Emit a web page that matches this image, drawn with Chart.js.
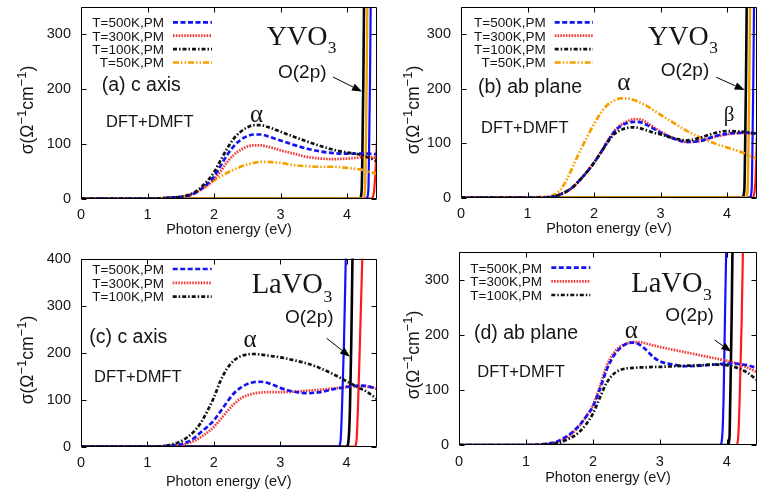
<!DOCTYPE html>
<html><head><meta charset="utf-8">
<script src="https://cdn.jsdelivr.net/npm/chart.js@4.4.1/dist/chart.umd.min.js"></script>
<style>
html,body{margin:0;padding:0;background:#fff;}
#wrap{position:relative;width:757px;height:494px;overflow:hidden;background:#fff;}
.pane{position:absolute;}
</style></head><body>
<div id="wrap">
 <div class="pane" style="left:0;top:0;width:380px;height:245px"><canvas id="ca"></canvas></div>
 <div class="pane" style="left:378px;top:0;width:379px;height:245px"><canvas id="cb"></canvas></div>
 <div class="pane" style="left:0;top:245px;width:380px;height:249px"><canvas id="cc"></canvas></div>
 <div class="pane" style="left:378px;top:245px;width:379px;height:249px"><canvas id="cd"></canvas></div>
</div>
<script>
// ---------------- data ----------------
const energy = [0, 1.0, 1.2, 1.4, 1.5, 1.6, 1.7, 1.8, 1.9, 2.0, 2.1, 2.2, 2.3, 2.4, 2.5, 2.6, 2.7, 2.8, 2.9, 3.0, 3.2, 3.4, 3.6, 3.8, 4.0, 4.2, 4.3, 4.45];
const xTicks = [0, 1, 2, 3, 4];
const yTicks350 = [0, 100, 200, 300];
const yTicks400 = [0, 100, 200, 300, 400];
const seriesLabels = ['T=500K,PM', 'T=300K,PM', 'T=100K,PM', 'T=50K,PM'];
const xTitle = 'Photon energy (eV)';
const yTitleParts = [['σ(Ω',0],['−1',1],['cm',0],['−1',1],[')',0]];

// (a) YVO3 c axis
const a_T500 = [0,0,0.5,2,3,5,9,17,27,40,60,80,96,107,114,117,117,114,110,106,98,91,86,83,82,82,82,81];
const a_T300 = [0,0,0.5,2,3,5,9,16,24,35,50,67,80,89,95,97,97,95,92,88,82,76,73,72,73,75,76,74];
const a_T100 = [0,0,0.5,2,3,6,11,20,32,48,70,92,110,122,130,134,134,131,127,122,113,104,96,89,84,80,76,68];
const a_T50  = [0,0,0.5,2,3,5,9,16,24,33,40,47,53,58,62,65,67,67,66,65,61,59,58,58,56,53,50,45];
// (b) YVO3 ab plane
const b_T500 = [0,0,0,2,6,12,21,34,48,64,82,102,120,131,137,139,138,133,126,119,108,102,104,112,117,119,119,118];
const b_T300 = [0,0,0,2,6,12,21,34,48,64,83,103,121,133,140,144,143,137,129,121,109,102,104,111,116,118,118,117];
const b_T100 = [0,0,0,2,6,12,21,34,48,64,82,101,116,124,128,129,127,123,119,116,109,105,110,118,122,121,120,117];
const b_T50  = [0,0,1,5,15,35,62,88,112,135,155,170,178,182,182,179,174,168,160,152,137,122,110,100,92,84,79,71];
// (c) LaVO3 c axis
const c_T500 = [0,0,1,3,5,10,18,30,42,56,75,95,113,125,133,137,138,136,131,125,117,114,116,122,127,130,129,123];
const c_T300 = [0,0,0.5,2,3,7,12,20,30,42,58,75,90,102,109,113,115,116,116,116,117,119,121,124,127,129,128,124];
const c_T100 = [0,0,1,6,11,20,32,50,75,104,140,166,183,192,196,197,196,194,192,190,184,177,167,154,139,124,117,102];
// (d) LaVO3 ab plane
const d_T500 = [0,0,1,4,8,15,24,36,52,70,100,135,160,175,184,186,182,172,160,152,146,143,144,146,148,147,145,140];
const d_T300 = [0,0,1,4,7,13,22,35,52,72,105,142,165,178,184,187,187,184,181,178,173,168,163,158,153,146,141,132];
const d_T100 = [0,0,0.5,2,4,9,15,24,38,57,85,112,128,136,139,140,141,141,142,142,143,144,145,146,145,138,132,118];

// O(2p) absorption edges (x in eV, y in conductivity)
const edgeY = [0, 0, 15, 80, 220, 420];
const a_edge500x = [0, 4.29, 4.32, 4.33, 4.345, 4.36];
const a_edge100x = [0, 4.19, 4.22, 4.23, 4.245, 4.26];
const a_edge50x  = [0, 4.24, 4.27, 4.28, 4.295, 4.31];
const a_edge300x = [0, 4.36, 4.40, 4.42, 4.44, 4.45];
const a_edge300y = [0, 0, 8, 35, 80, 105];
const b_edge500x = [0, 4.34, 4.37, 4.38, 4.395, 4.41];
const b_edge100x = [0, 4.23, 4.26, 4.27, 4.285, 4.30];
const b_edge50x  = [0, 4.28, 4.31, 4.32, 4.335, 4.35];
const b_edge300x = [0, 4.38, 4.41, 4.43, 4.45];
const b_edge300y = [0, 0, 8, 40, 115];
const c_edge500x = [0, 3.88, 3.91, 3.93, 3.96, 3.99];
const c_edge100x = [0, 4.00, 4.03, 4.05, 4.07, 4.09];
const c_edge300x = [0, 4.12, 4.15, 4.17, 4.20, 4.24];
const d_edge500x = [0, 3.90, 3.93, 3.95, 3.97, 4.00];
const d_edge100x = [0, 4.01, 4.04, 4.05, 4.07, 4.09];
const d_edge300x = [0, 4.14, 4.17, 4.19, 4.22, 4.25];

// ---------------- styles ----------------
const SANS = '"Liberation Sans", Arial, sans-serif';
const SERIF = '"Liberation Serif", "Times New Roman", serif';
const INK = '#151515';
const STY = {
  T500: {color:'#1414f0', dash:[5,2.5], width:2.7},
  T300: {color:'#f23a3a', dash:[1.6,1.2], width:2.7},
  T100: {color:'#111111', dash:[4,2,1.5,2], width:2.7},
  T50:  {color:'#f5a000', dash:[6,2,1.5,2,1.5,2], width:2.7}
};
const EDGE = {
  T500: {color:'#1010ff', width:2.2},
  T300: {color:'#ff1a1a', width:2.2},
  T100: {color:'#000000', width:2.6},
  T50:  {color:'#f2a000', width:2.4}
};

function pts(xs, ys){ return xs.map((x,i)=>({x:x, y:ys[i]})); }

function curve(label, key, values, order){
  const s = STY[key];
  return {label, data: pts(energy, values), borderColor:s.color, borderWidth:s.width, borderDash:s.dash,
    pointRadius:0, fill:false, cubicInterpolationMode:'monotone', order, styleKey:key};
}
function edge(key, xs, ys, order){
  const s = EDGE[key];
  return {label:'O(2p) '+key, data: pts(xs, ys), borderColor:s.color, borderWidth:s.width,
    pointRadius:0, fill:false, cubicInterpolationMode:'monotone', order};
}

function makeDeco(p){
  return {
    id:'deco_'+p.id,
    afterDatasetsDraw(chart){
      const ctx = chart.ctx, a = chart.chartArea, xs = chart.scales.x, ys = chart.scales.y;
      ctx.save();
      // frame with inward ticks on all four sides
      ctx.strokeStyle = '#000'; ctx.lineWidth = 1; ctx.setLineDash([]);
      const L = Math.round(a.left)+0.5, R = Math.round(a.right)-0.5, T = Math.round(a.top)+0.5, B = Math.round(a.bottom)-0.5;
      ctx.beginPath(); ctx.rect(L, T, R-L, B-T); ctx.stroke();
      ctx.beginPath();
      p.xTicks.forEach(v=>{ const px = Math.round(xs.getPixelForValue(v))+0.5;
        ctx.moveTo(px,B); ctx.lineTo(px,B-5); ctx.moveTo(px,T); ctx.lineTo(px,T+5); });
      p.yTicks.forEach(v=>{ const py = Math.round(ys.getPixelForValue(v))+0.5;
        ctx.moveTo(L,py); ctx.lineTo(L+5,py); ctx.moveTo(R,py); ctx.lineTo(R-5,py); });
      ctx.stroke();
      // y-axis title with real superscripts
      ctx.save();
      ctx.translate(p.ytitle.x, p.ytitle.cy);
      ctx.rotate(-Math.PI/2);
      ctx.fillStyle = INK; ctx.textBaseline = 'alphabetic'; ctx.textAlign = 'left';
      const big = '17.5px '+SANS, small = '13px '+SANS;
      let total = 0;
      yTitleParts.forEach(([t,sup])=>{ ctx.font = sup?small:big; total += ctx.measureText(t).width; });
      let cx = -total/2;
      yTitleParts.forEach(([t,sup])=>{ ctx.font = sup?small:big; ctx.fillText(t, cx, sup? -1 : 6); cx += ctx.measureText(t).width; });
      ctx.restore();
      // legend
      const legendSets = chart.data.datasets.filter(d=>d.styleKey);
      ctx.font = '13.5px '+SANS; ctx.fillStyle = INK; ctx.textAlign = 'right'; ctx.textBaseline = 'alphabetic';
      legendSets.forEach((d,i)=>{
        const y = p.legend.rows[i];
        ctx.fillText(d.label, p.legend.textRight, y+4.8);
        const s = STY[d.styleKey];
        ctx.strokeStyle = s.color; ctx.lineWidth = s.width; ctx.setLineDash(s.dash);
        ctx.beginPath(); ctx.moveTo(p.legend.x1, y); ctx.lineTo(p.legend.x2, y); ctx.stroke();
      });
      ctx.setLineDash([]);
      // annotations
      ctx.fillStyle = INK; ctx.textAlign = 'left';
      p.notes.forEach(n=>{
        if (n.kind === 'chem'){
          ctx.font = n.size+'px '+SERIF; ctx.textAlign='left';
          ctx.fillText(n.base, n.x, n.y);
          const w = ctx.measureText(n.base).width;
          ctx.font = (n.size*0.62)+'px '+SERIF;
          ctx.fillText(n.sub, n.x + w + 0.5, n.y + n.size*0.29);
        } else if (n.kind === 'arrow'){
          ctx.strokeStyle = '#000'; ctx.lineWidth = 1;
          const ang = Math.atan2(n.y2-n.y1, n.x2-n.x1), hl = 10, hw = 3.8;
          const bx = n.x2 - hl*Math.cos(ang), by = n.y2 - hl*Math.sin(ang);
          ctx.beginPath(); ctx.moveTo(n.x1,n.y1); ctx.lineTo(bx,by); ctx.stroke();
          ctx.fillStyle = '#000';
          ctx.beginPath(); ctx.moveTo(n.x2,n.y2);
          ctx.lineTo(bx + hw*Math.sin(ang), by - hw*Math.cos(ang));
          ctx.lineTo(bx - hw*Math.sin(ang), by + hw*Math.cos(ang));
          ctx.closePath(); ctx.fill();
          ctx.fillStyle = INK;
        } else {
          ctx.font = n.size+'px '+(n.serif?SERIF:SANS);
          ctx.textAlign = n.align || 'left';
          ctx.fillText(n.text, n.x, n.y);
        }
      });
      ctx.restore();
    }
  };
}

function makeChart(p){
  new Chart(document.getElementById(p.id), {
    type:'line',
    data:{datasets:p.datasets},
    options:{
      responsive:true, maintainAspectRatio:false, animation:false, devicePixelRatio:1,
      layout:{padding:{top:p.area.top, right:p.area.right, left:0, bottom:0}},
      plugins:{legend:{display:false}, tooltip:{enabled:false}},
      scales:{
        x:{type:'linear', min:0, max:4.45,
          afterBuildTicks:s=>{ s.ticks = p.xTicks.map(v=>({value:v})); },
          afterFit:s=>{ s.height = p.area.xh; s.paddingLeft = 0; s.paddingRight = 0; },
          grid:{display:false, drawTicks:false}, border:{display:false},
          ticks:{color:INK, padding:p.area.xtp, maxRotation:0, autoSkip:false, font:{family:SANS, size:14.5}},
          title:{display:true, text:xTitle, color:INK, font:{family:SANS, size:14.5}, padding:{top:0, bottom:p.area.xtb}}
        },
        y:{type:'linear', min:0, max:p.ymax,
          afterBuildTicks:s=>{ s.ticks = p.yTicks.map(v=>({value:v})); },
          afterFit:s=>{ s.width = p.area.left; s.paddingTop = 0; s.paddingBottom = 0; },
          grid:{display:false, drawTicks:false}, border:{display:false},
          ticks:{color:INK, padding:10, font:{family:SANS, size:14.5}},
          title:{display:false}
        }
      }
    },
    plugins:[makeDeco(p)]
  });
}

// ---------------- panels ----------------
makeChart({
  id:'ca', ymax:350, xTicks, yTicks:yTicks350,
  area:{left:81, top:7, right:3, xh:46.5, xtp:8, xtb:6.8},
  ytitle:{x:27, cy:110},
  datasets:[
    curve(seriesLabels[0],'T500',a_T500,2), curve(seriesLabels[1],'T300',a_T300,3),
    curve(seriesLabels[2],'T100',a_T100,1), curve(seriesLabels[3],'T50',a_T50,4),
    edge('T100',a_edge100x,edgeY,13), edge('T500',a_edge500x,edgeY,12),
    edge('T300',a_edge300x,a_edge300y,14), edge('T50',a_edge50x,edgeY,10)
  ],
  legend:{textRight:164, x1:173, x2:212, rows:[22.3,35.7,49.1,62.5]},
  notes:[
    {kind:'chem', base:'YVO', sub:'3', x:266.7, y:45, size:28},
    {text:'O(2p)', x:278, y:78, size:19},
    {kind:'arrow', x1:333, y1:77, x2:362, y2:91.5},
    {text:'(a) c axis', x:101.7, y:91, size:19.5},
    {text:'DFT+DMFT', x:106, y:127.3, size:16.5},
    {text:'α', x:256.5, y:122, size:25, serif:true, align:'center'}
  ]
});
makeChart({
  id:'cb', ymax:350, xTicks, yTicks:yTicks350,
  area:{left:83, top:7, right:0, xh:47.5, xtp:8, xtb:7.3},
  ytitle:{x:35, cy:110},
  datasets:[
    curve(seriesLabels[0],'T500',b_T500,2), curve(seriesLabels[1],'T300',b_T300,3),
    curve(seriesLabels[2],'T100',b_T100,1), curve(seriesLabels[3],'T50',b_T50,4),
    edge('T100',b_edge100x,edgeY,13), edge('T500',b_edge500x,edgeY,12),
    edge('T300',b_edge300x,b_edge300y,14), edge('T50',b_edge50x,edgeY,10)
  ],
  legend:{textRight:167.7, x1:176.7, x2:215, rows:[22.3,35.7,49.1,62.5]},
  notes:[
    {kind:'chem', base:'YVO', sub:'3', x:270, y:45, size:28},
    {text:'O(2p)', x:282.7, y:76, size:19},
    {kind:'arrow', x1:338.3, y1:77.3, x2:366.7, y2:90},
    {text:'(b) ab plane', x:100, y:92.7, size:19.5},
    {text:'DFT+DMFT', x:103, y:133.3, size:16.5},
    {text:'α', x:245.8, y:90, size:25, serif:true, align:'center'},
    {text:'β', x:351, y:121, size:21, serif:true, align:'center'}
  ]
});
makeChart({
  id:'cc', ymax:400, xTicks, yTicks:yTicks400,
  area:{left:81, top:13.5, right:3.5, xh:47.3, xtp:8, xtb:3.5},
  ytitle:{x:27, cy:115},
  datasets:[
    curve(seriesLabels[0],'T500',c_T500,2), curve(seriesLabels[1],'T300',c_T300,3),
    curve(seriesLabels[2],'T100',c_T100,1),
    edge('T500',c_edge500x,edgeY,12), edge('T300',c_edge300x,edgeY,13), edge('T100',c_edge100x,edgeY,10)
  ],
  legend:{textRight:164, x1:172.7, x2:211.7, rows:[24,37.8,51.6]},
  notes:[
    {kind:'chem', base:'LaVO', sub:'3', x:251.7, y:48.3, size:28.5},
    {text:'O(2p)', x:285, y:77.7, size:19},
    {kind:'arrow', x1:326.7, y1:93.3, x2:350, y2:111.7},
    {text:'(c) c axis', x:89.3, y:97.7, size:19.5},
    {text:'DFT+DMFT', x:94, y:136.7, size:16.5},
    {text:'α', x:250, y:101.7, size:25, serif:true, align:'center'}
  ]
});
makeChart({
  id:'cd', ymax:350, xTicks, yTicks:yTicks350,
  area:{left:81, top:7.3, right:0, xh:49, xtp:8, xtb:7.5},
  ytitle:{x:35, cy:110},
  datasets:[
    curve(seriesLabels[0],'T500',d_T500,2), curve(seriesLabels[1],'T300',d_T300,3),
    curve(seriesLabels[2],'T100',d_T100,1),
    edge('T500',d_edge500x,edgeY,12), edge('T300',d_edge300x,edgeY,13), edge('T100',d_edge100x,edgeY,10)
  ],
  legend:{textRight:164, x1:173.3, x2:212.3, rows:[22.7,36.4,50]},
  notes:[
    {kind:'chem', base:'LaVO', sub:'3', x:253.3, y:46.7, size:28.5},
    {text:'O(2p)', x:287.3, y:76, size:19},
    {kind:'arrow', x1:336.7, y1:95, x2:353.3, y2:106.7},
    {text:'(d) ab plane', x:96, y:94.3, size:19.5},
    {text:'DFT+DMFT', x:99.3, y:131.7, size:16.5},
    {text:'α', x:253.3, y:93.3, size:25, serif:true, align:'center'}
  ]
});
</script>
</body></html>
